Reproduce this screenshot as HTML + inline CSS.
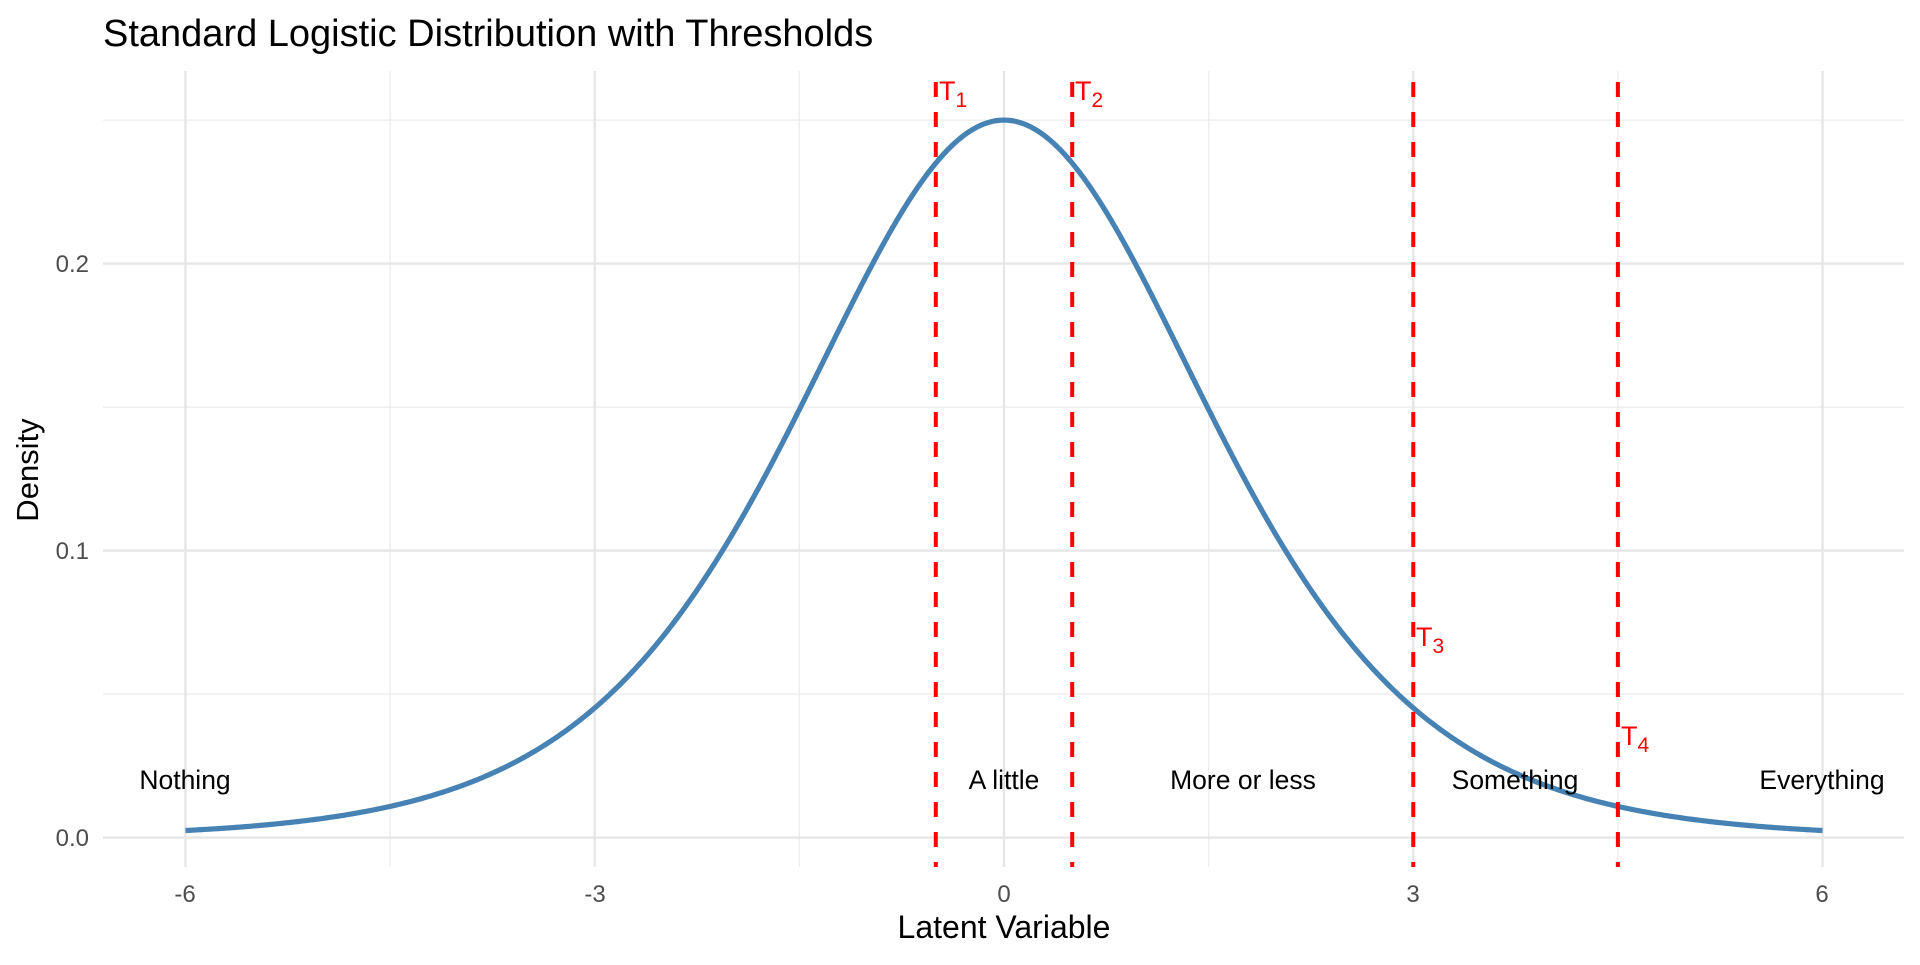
<!DOCTYPE html>
<html><head><meta charset="utf-8"><style>
html,body{margin:0;padding:0;background:#fff;}
svg text{font-family:"Liberation Sans",sans-serif;}
</style></head><body>
<svg id="s" width="1920" height="960" xmlns="http://www.w3.org/2000/svg">
<rect width="1920" height="960" fill="#fff"/>
<g id="grid"></g>
<path id="curve" fill="none" stroke="#4682B4" stroke-width="5.2"/>
<g id="th"></g>
<text x="103" y="46" font-size="38" fill="#000">Standard Logistic Distribution with Thresholds</text>
<g font-size="24" fill="#4d4d4d" text-anchor="end">
<text x="89" y="846">0.0</text>
<text x="89" y="559">0.1</text>
<text x="89" y="272">0.2</text>
</g>
<g font-size="24" fill="#4d4d4d" text-anchor="middle">
<text x="185" y="902">-6</text>
<text x="595" y="902">-3</text>
<text x="1004" y="902">0</text>
<text x="1413" y="902">3</text>
<text x="1822" y="902">6</text>
</g>
<text x="1004" y="938" font-size="32" text-anchor="middle" fill="#000">Latent Variable</text>
<text transform="translate(38,470) rotate(-90)" font-size="31" text-anchor="middle" fill="#000">Density</text>
<g font-size="26.5" fill="#000" text-anchor="middle">
<text x="185" y="789">Nothing</text>
<text x="1004" y="789">A little</text>
<text x="1243" y="789">More or less</text>
<text x="1515" y="789">Something</text>
<text x="1822" y="789">Everything</text>
</g>
<g font-size="27" fill="#ff0000">
<text x="939" y="100">T<tspan font-size="21" dy="7">1</tspan></text>
<text x="1075" y="100">T<tspan font-size="21" dy="7">2</tspan></text>
<text x="1416" y="646">T<tspan font-size="21" dy="7">3</tspan></text>
<text x="1621" y="745">T<tspan font-size="21" dy="7">4</tspan></text>
</g>
</svg>
<script>
var X=function(v){return 1004+v*136.42;},Y=function(d){return 837.6-d*2870;};
var g='';
[-4.5,-1.5,1.5,4.5].forEach(function(v){g+='<line x1="'+X(v)+'" x2="'+X(v)+'" y1="71" y2="867" stroke="#ebebeb" stroke-width="1.2"/>';});
[0.05,0.15,0.25].forEach(function(v){g+='<line x1="103" x2="1904" y1="'+Y(v)+'" y2="'+Y(v)+'" stroke="#ebebeb" stroke-width="1.2"/>';});
[-6,-3,0,3,6].forEach(function(v){g+='<line x1="'+X(v)+'" x2="'+X(v)+'" y1="71" y2="867" stroke="#e6e6e6" stroke-width="2.4"/>';});
[0,0.1,0.2].forEach(function(v){g+='<line x1="103" x2="1904" y1="'+Y(v)+'" y2="'+Y(v)+'" stroke="#e6e6e6" stroke-width="2.4"/>';});
document.getElementById('grid').innerHTML=g;
var p='';for(var i=0;i<=600;i++){var x=-6+12*i/600;var e=Math.exp(-x);var d=e/((1+e)*(1+e));p+=(i?'L':'M')+X(x).toFixed(2)+','+Y(d).toFixed(2);}
document.getElementById('curve').setAttribute('d',p);
var t='';[-0.5,0.5,3,4.5].forEach(function(v){t+='<line x1="'+X(v)+'" x2="'+X(v)+'" y1="82" y2="867" stroke="#ff0000" stroke-width="4" stroke-dasharray="15,15"/>';});
document.getElementById('th').innerHTML=t;
</script>
</body></html>
